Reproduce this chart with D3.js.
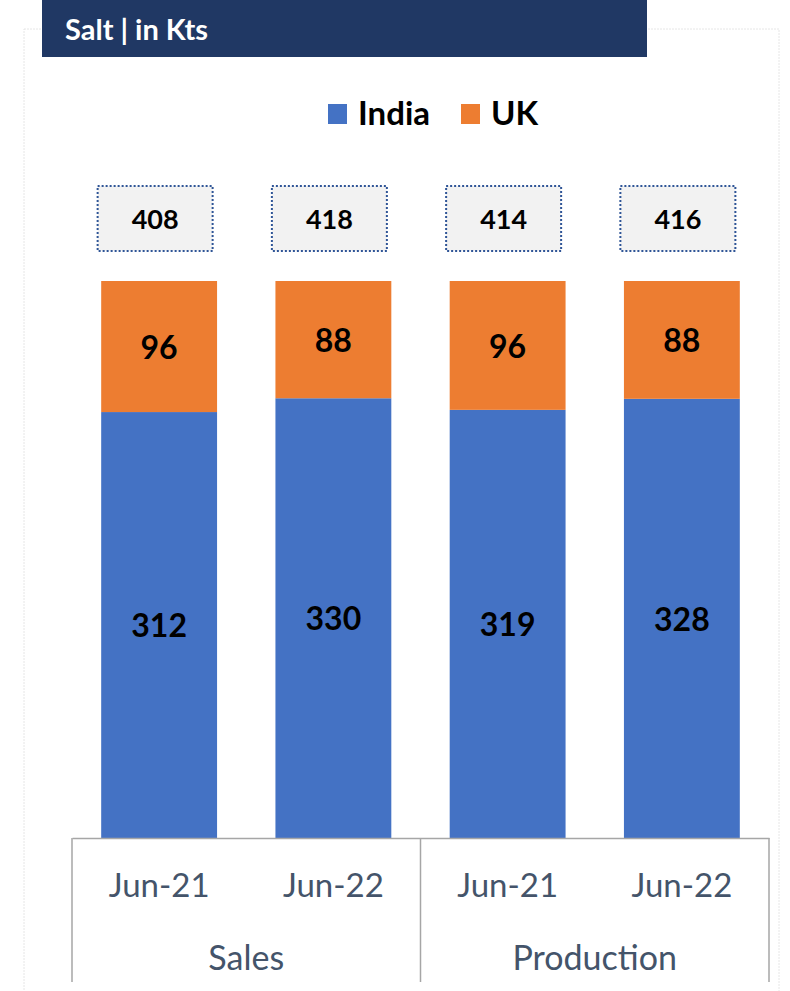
<!DOCTYPE html>
<html>
<head>
<meta charset="utf-8">
<script src="https://cdn.jsdelivr.net/npm/d3@7"></script>
<style>
  body { margin: 0; background: #fff; }
  svg { font-family: Lato, "Open Sans", sans-serif; }
</style>
</head>
<body>
<svg id="chart" width="790" height="991"></svg>
<script>
// data
var groups  = ["Sales", "Production"];
var periods = ["Jun-21", "Jun-22", "Jun-21", "Jun-22"];
var india   = [312, 330, 319, 328];
var uk      = [96, 88, 96, 88];
var totals  = [408, 418, 414, 416];
var seriesNames = ["India", "UK"];
var colors = ["#4472c4", "#ed7d31"];

var svg = d3.select("#chart");

// faint outer frame
svg.append("rect")
   .attr("x", 24).attr("y", 29).attr("width", 755).attr("height", 990)
   .attr("fill", "none").attr("stroke", "#e6e6e6").attr("stroke-dasharray", "2,1");

// title bar
svg.append("rect").attr("x", 42).attr("y", 0).attr("width", 605).attr("height", 57).attr("fill", "#203864");
svg.append("text").attr("x", 65).attr("y", 40)
   .attr("fill", "#fff").attr("font-weight", "bold").attr("font-size", 29)
   .text("Salt | in Kts");

// legend
var legendX = [328, 461];
var legend = svg.selectAll("g.legend").data(seriesNames).enter().append("g")
   .attr("class", "legend")
   .attr("transform", function(d, i) { return "translate(" + legendX[i] + ",104)"; });
legend.append("rect").attr("width", 19).attr("height", 20).attr("fill", function(d, i) { return colors[i]; });
legend.append("text").attr("x", 30).attr("y", 21)
   .attr("font-size", 33).attr("font-weight", "bold").attr("fill", "#000")
   .text(function(d) { return d; });

// scales
var idx = d3.range(periods.length);
var x = d3.scaleBand().domain(idx).range([72, 769]).paddingInner(0.335).paddingOuter(0.1675);
var y = d3.scaleLinear().domain([0, 1]).range([838, 281]);

// 100% stacked rows
var rows = idx.map(function(i) {
    var s = india[i] + uk[i];
    return { India: india[i] / s, UK: uk[i] / s, vIndia: india[i], vUK: uk[i] };
});
var stack = d3.stack().keys(seriesNames)(rows);

var layer = svg.selectAll("g.layer").data(stack).enter().append("g")
   .attr("class", "layer")
   .attr("fill", function(d, i) { return colors[i]; });

layer.selectAll("rect").data(function(d) { return d; }).enter().append("rect")
   .attr("x", function(d, i) { return x(i); })
   .attr("y", function(d) { return y(d[1]); })
   .attr("width", x.bandwidth())
   .attr("height", function(d) { return y(d[0]) - y(d[1]); });

layer.selectAll("text").data(function(d) { return d.map(function(s) { s.key = d.key; return s; }); })
   .enter().append("text")
   .attr("x", function(d, i) { return x(i) + x.bandwidth() / 2; })
   .attr("y", function(d) { return (y(d[0]) + y(d[1])) / 2; })
   .attr("dy", "0.38em")
   .attr("text-anchor", "middle")
   .attr("font-size", 32).attr("font-weight", "bold").attr("fill", "#000")
   .text(function(d) { return d.data["v" + d.key]; });

// total boxes
var boxW = 115, boxH = 65;
var tot = svg.selectAll("g.total").data(totals).enter().append("g")
   .attr("class", "total")
   .attr("transform", function(d, i) {
       return "translate(" + (x(i) + x.bandwidth() / 2 - 4 - boxW / 2) + ",186)";
   });
tot.append("rect").attr("width", boxW).attr("height", boxH)
   .attr("fill", "#f2f2f2").attr("stroke", "#2f5597")
   .attr("stroke-width", 2).attr("stroke-dasharray", "2,2");
tot.append("text").attr("x", boxW / 2).attr("y", boxH / 2).attr("dy", "0.38em")
   .attr("text-anchor", "middle").attr("font-size", 27).attr("font-weight", "bold").attr("fill", "#000")
   .text(function(d) { return d; });

// axis
var axis = svg.append("g").attr("class", "axis")
   .attr("transform", "translate(0,838)")
   .call(d3.axisBottom(x).tickSize(0).tickPadding(36).tickFormat(function(i) { return periods[i]; }));
axis.select(".domain").attr("stroke", "#a6a6a6").attr("stroke-width", 1.5);
axis.selectAll("text").attr("font-family", "Lato, sans-serif").attr("font-size", 33).attr("fill", "#44546a");

// group separators and labels
var mid = (x(1) + x.bandwidth() + x(2)) / 2;
var seps = [x.range()[0], mid, x.range()[1]];
svg.selectAll("line.sep").data(seps).enter().append("line")
   .attr("class", "sep")
   .attr("x1", function(d) { return d; }).attr("x2", function(d) { return d; })
   .attr("y1", 838).attr("y2", 982)
   .attr("stroke", "#a6a6a6").attr("stroke-width", 1.5);

svg.selectAll("text.group").data(groups).enter().append("text")
   .attr("class", "group")
   .attr("x", function(d, i) { return (seps[i] + seps[i + 1]) / 2; })
   .attr("y", 970)
   .attr("text-anchor", "middle").attr("font-size", 34).attr("fill", "#44546a")
   .text(function(d) { return d; });
</script>
</body>
</html>
